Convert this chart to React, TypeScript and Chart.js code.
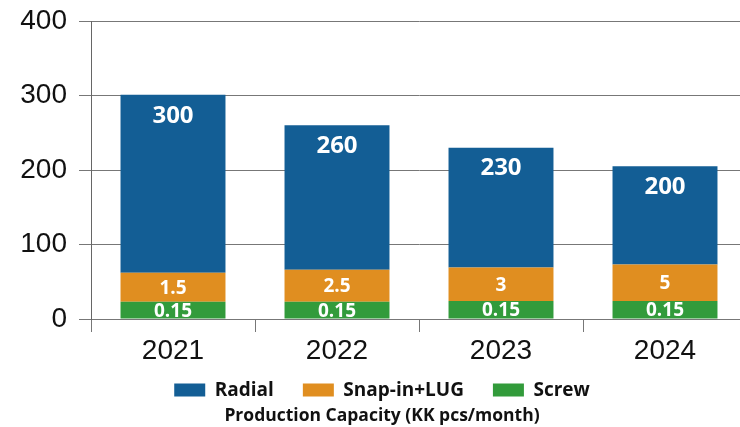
import React, { useEffect, useRef } from "react";
import { Chart, registerables } from "chart.js";

Chart.register(...registerables);

const categories = ["2021", "2022", "2023", "2024"];
const radialValues = [239, 194, 161, 132];
const snapValues = [39, 43, 45, 49];
const screwValues = [23, 23, 24, 24];
const radialLabels = ["300", "260", "230", "200"];
const snapLabels = ["1.5", "2.5", "3", "5"];
const screwLabels = ["0.15", "0.15", "0.15", "0.15"];
const yTicks = [0, 100, 200, 300, 400];

const LEGEND_HEIGHT = 36.4;
const LEGEND_SHIFT = 18;

const labelPlugin = {
  id: "segLabels",
  afterInit(chart: any) {
    const lg = chart.legend;
    if (!lg) return;
    const origFit = lg.fit.bind(lg);
    lg.fit = () => {
      origFit();
      lg.height = LEGEND_HEIGHT;
    };
    const origDraw = lg.draw.bind(lg);
    lg.draw = (...args: any[]) => {
      const t = lg.top;
      lg.top = t - LEGEND_SHIFT;
      origDraw(...args);
      lg.top = t;
    };
  },
  afterDatasetsDraw(chart: any) {
    const ctx = chart.ctx;
    ctx.save();
    ctx.fillStyle = "#ffffff";
    ctx.textAlign = "center";
    ctx.textBaseline = "middle";
    chart.data.datasets.forEach((ds: any, i: number) => {
      const meta = chart.getDatasetMeta(i);
      const labels: string[] = ds.valueLabels;
      meta.data.forEach((bar: any, j: number) => {
        const p = bar.getProps(["x", "y", "base"], true);
        if (ds.labelTop) {
          ctx.font = "bold 24px 'Open Sans'";
          ctx.fillText(labels[j], p.x, p.y + 21);
        } else {
          ctx.font = "bold 19px 'Open Sans'";
          ctx.fillText(labels[j], p.x, (p.y + p.base) / 2 + 1);
        }
      });
    });
    ctx.restore();
  },
};

export default function App() {
  const ref = useRef<HTMLCanvasElement>(null);
  useEffect(() => {
    if (!ref.current) return;
    const chart = new Chart(ref.current, {
      type: "bar",
      data: {
        labels: categories,
        datasets: [
          {
            label: "Screw",
            data: screwValues,
            backgroundColor: "#329B3B",
            valueLabels: screwLabels,
          } as any,
          {
            label: "Snap-in+LUG",
            data: snapValues,
            backgroundColor: "#E08E20",
            valueLabels: snapLabels,
          } as any,
          {
            label: "Radial",
            data: radialValues,
            backgroundColor: "#135E95",
            valueLabels: radialLabels,
            labelTop: true,
          } as any,
        ],
      },
      options: {
        responsive: false,
        animation: false,
        layout: { padding: { left: 17, right: 17, top: 21, bottom: 0 } },
        datasets: {
          bar: { categoryPercentage: 1, barPercentage: 0.64 },
        },
        scales: {
          x: {
            stacked: true,
            offset: true,
            grid: {
              offset: true,
              drawOnChartArea: false,
              drawTicks: true,
              tickLength: 13,
              color: "#777777",
            },
            border: { display: false },
            ticks: {
              color: "#111",
              font: { family: "'Liberation Sans'", size: 28 },
              padding: 2,
            },
          },
          y: {
            stacked: true,
            min: 0,
            max: 400,
            afterFit: (scale: any) => {
              scale.width = 74;
              scale.paddingTop = 0;
              scale.paddingBottom = 0;
            },
            afterBuildTicks: (scale: any) => {
              scale.ticks = yTicks.map((v) => ({ value: v }));
            },
            grid: {
              color: "#777777",
              tickLength: 12,
            },
            border: { display: true, color: "#666666" },
            ticks: {
              color: "#111",
              font: { family: "'Liberation Sans'", size: 28 },
              padding: 12,
            },
          },
        },
        plugins: {
          legend: {
            position: "bottom",
            reverse: true,
            labels: {
              boxWidth: 31,
              boxHeight: 13,
              padding: 29,
              color: "#111",
              font: { family: "'Open Sans'", size: 19, weight: "bold" },
            },
          },
          title: {
            display: true,
            position: "bottom",
            text: "Production Capacity (KK pcs/month)",
            color: "#111",
            font: { family: "'Open Sans'", size: 17.5, weight: "bold" },
            padding: { top: 0, bottom: 0 },
          },
          tooltip: { enabled: false },
        },
      },
      plugins: [labelPlugin],
    } as any);
    return () => chart.destroy();
  }, []);
  return (
    <div
      style={{
        position: "fixed",
        left: 0,
        top: 0,
        width: 740,
        height: 427,
        overflow: "hidden",
        background: "#fff",
      }}
    >
      <canvas ref={ref} width={764} height={427} />
    </div>
  );
}
